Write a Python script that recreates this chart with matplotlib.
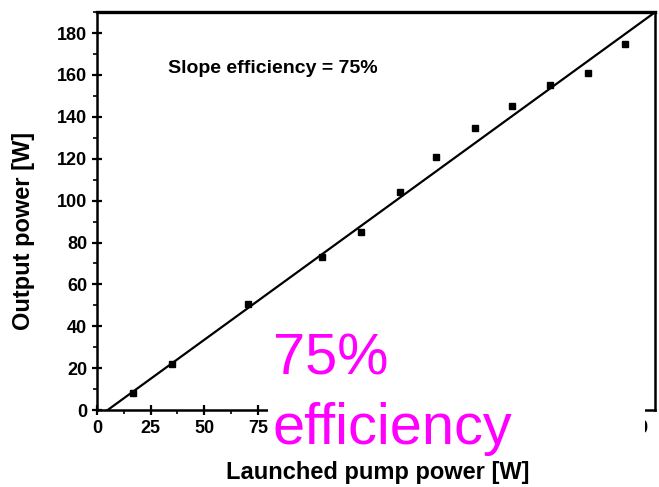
import matplotlib
matplotlib.use("Agg")
import matplotlib.pyplot as plt
from matplotlib.patches import Rectangle
from matplotlib.ticker import MultipleLocator
import numpy as np

# measured points: launched pump power [W] vs output power [W]
pump_w = [17, 35, 70.5, 105, 123, 141, 158, 176, 193.5, 211, 229, 246]
output_w = [8, 22, 50.5, 73, 85, 104, 121, 134.5, 145, 155, 161, 175]

# linear fit, slope efficiency 75 %
fit_slope = 0.745
fit_threshold = 5.0

x_ticks = [0, 25, 50, 75, 100, 125, 150, 175, 200, 225, 250]
y_ticks = [0, 20, 40, 60, 80, 100, 120, 140, 160, 180]

plt.rcParams['font.family'] = ['Liberation Sans', 'DejaVu Sans']

fig = plt.figure(figsize=(6.59, 4.87), dpi=100)
ax = fig.add_axes([0.147, 0.158, 0.847, 0.817])

xf = np.array([fit_threshold, 262])
ax.plot(xf, fit_slope * (xf - fit_threshold), color='black', lw=1.6, zorder=2)
ax.plot(pump_w, output_w, 's', color='black', ms=5, zorder=3)

ax.set_xlim(0, 260)
ax.set_ylim(0, 190)
ax.set_xticks(x_ticks)
ax.set_yticks(y_ticks)
ax.xaxis.set_minor_locator(MultipleLocator(12.5))
ax.yaxis.set_minor_locator(MultipleLocator(10))
ax.tick_params(which='major', direction='inout', length=7, width=1.6,
               labelsize=13, top=False, right=False)
ax.tick_params(which='minor', direction='out', length=3, width=1.2,
               top=False, right=False)
for lab in ax.get_xticklabels() + ax.get_yticklabels():
    lab.set_fontweight('bold')
# labels hidden under the white overlay in the original
for val, lab in zip(x_ticks, ax.get_xticklabels()):
    if 100 <= val <= 225:
        lab.set_visible(False)
for s in ax.spines.values():
    s.set_linewidth(1.8)
ax.spines['top'].set_linewidth(2.4)

ax.set_xlabel('Launched pump power [W]', fontsize=17, fontweight='bold', va='top')
ax.set_ylabel('Output power [W]', fontsize=17, fontweight='bold')
ax.xaxis.set_label_coords(0.503, -0.128)
ax.yaxis.set_label_coords(-0.111, 0.45)

ax.text(33, 163, 'Slope efficiency = 75%', fontsize=14, fontweight='bold',
        va='center', ha='left')

# white overlay with magenta annotation
fig.patches.append(Rectangle((0.407, 0.066), 0.572, 0.27, transform=fig.transFigure,
                             facecolor='white', edgecolor='none', zorder=5))
fig.text(0.414, 0.230, '75%', color='#ff00ff', fontsize=41.5, ha='left',
         va='baseline', zorder=6)
fig.text(0.414, 0.088, 'efficiency', color='#ff00ff', fontsize=41.5, ha='left',
         va='baseline', zorder=6)

fig.savefig('out.png', dpi=100)
